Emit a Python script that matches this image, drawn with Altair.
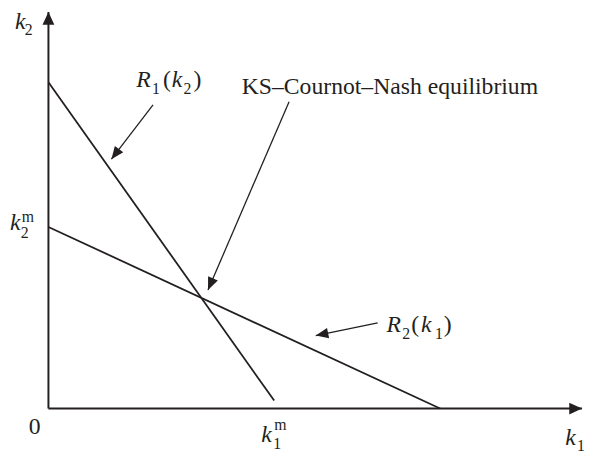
import math
import altair as alt
import pandas as pd

# ---- data (abstract units: both axes run 0..100) ----
AXIS_MAX = 100.0
# reaction function R1(k2): end points (k1, k2)
r1_k1 = [0.0, 42.3]
r1_k2 = [82.3, 2.0]
# reaction function R2(k1)
r2_k1 = [0.0, 73.4]
r2_k2 = [45.8, 0.0]
# annotation arrows: start -> tip
arrow_names = ["R1", "KS", "R2"]
arrow_x0 = [19.6, 45.1, 61.7]
arrow_y0 = [76.6, 77.4, 21.6]
arrow_x1 = [11.8, 29.9, 50.1]
arrow_y1 = [62.9, 29.9, 18.4]

# ---- layout ----
W, H = 541, 402
SX, SY = W / AXIS_MAX, H / AXIS_MAX
INK = "#231f20"
FONT = "Liberation Serif"
MAIN, SUB = 24, 16

xs = alt.Scale(domain=[0, AXIS_MAX], nice=False, zero=False)
ys = alt.Scale(domain=[0, AXIS_MAX], nice=False, zero=False)
X = lambda f: alt.X(f, type="quantitative", scale=xs, axis=None)
Y = lambda f: alt.Y(f, type="quantitative", scale=ys, axis=None)


def heading(x0, y0, x1, y1):
    dxp = (x1 - x0) * SX
    dyp = -(y1 - y0) * SY
    return math.degrees(math.atan2(dxp, -dyp)) % 360


axes_df = pd.DataFrame({"x": [0, 0], "y": [0, 0], "x2": [AXIS_MAX, 0], "y2": [0, AXIS_MAX]})
axis_heads = pd.DataFrame({"x": [AXIS_MAX, 0], "y": [0, AXIS_MAX], "angle": [90, 0]})

react_df = pd.DataFrame({
    "x": [r1_k1[0], r2_k1[0]], "y": [r1_k2[0], r2_k2[0]],
    "x2": [r1_k1[1], r2_k1[1]], "y2": [r1_k2[1], r2_k2[1]],
})

arr_df = pd.DataFrame({"name": arrow_names, "x": arrow_x0, "y": arrow_y0,
                       "x2": arrow_x1, "y2": arrow_y1})
head_df = pd.DataFrame({
    "x": arrow_x1, "y": arrow_y1,
    "angle": [heading(a, b, c, d) for a, b, c, d in zip(arrow_x0, arrow_y0, arrow_x1, arrow_y1)],
})

rows = []


def piece(anchor, dx, dy, txt, italic, size):
    ax, ay = anchor
    rows.append({"x": ax + dx / SX, "y": ay - dy / SY, "text": txt,
                 "style": "italic" if italic else "normal", "size": size})


top = (0, AXIS_MAX)
right = (AXIS_MAX, 0)
origin = (0, 0)
k2m = (0, r2_k2[0])
k1m = (r1_k1[1], 0)
a_r1 = (arrow_x0[0], arrow_y0[0])
a_ks = (arrow_x0[1], arrow_y0[1])
a_r2 = (arrow_x0[2], arrow_y0[2])

piece(top, -34, 17, "k", True, MAIN)
piece(top, -24, 23, "2", False, SUB)
piece(right, -17, 37, "k", True, MAIN)
piece(right, -5, 43, "1", False, SUB)
piece(origin, -20, 26, "0", False, MAIN)
piece(k2m, -39, 3, "k", True, MAIN)
piece(k2m, -28, 11, "2", False, SUB)
piece(k2m, -27, -5, "m", False, SUB)
piece(k1m, -13, 34, "k", True, MAIN)
piece(k1m, -1, 41, "1", False, SUB)
piece(k1m, 0, 22, "m", False, SUB)
# R1(k2)
piece(a_r1, -17, -18, "R", True, MAIN)
piece(a_r1, -1, -11, "1", False, SUB)
piece(a_r1, 10, -18, "(", False, MAIN)
piece(a_r1, 19, -18, "k", True, MAIN)
piece(a_r1, 31, -11, "2", False, SUB)
piece(a_r1, 41, -18, ")", False, MAIN)
# KS label
piece(a_ks, -48, -8, "KS\u2013Cournot\u2013Nash equilibrium", False, MAIN)
# R2(k1)
piece(a_r2, 9, 9, "R", True, MAIN)
piece(a_r2, 25, 16, "2", False, SUB)
piece(a_r2, 34, 9, "(", False, MAIN)
piece(a_r2, 44, 9, "k", True, MAIN)
piece(a_r2, 58, 16, "1", False, SUB)
piece(a_r2, 67, 9, ")", False, MAIN)

txt_df = pd.DataFrame(rows)

AXIS_HEAD = "M0,0 L-0.46,1 L0.46,1 Z"
ANNOT_HEAD = "M0,0 L-0.42,1 L0.42,1 Z"

layers = [
    alt.Chart(axes_df).mark_rule(color=INK, strokeWidth=2).encode(
        x=X("x"), y=Y("y"), x2="x2", y2="y2"),
    alt.Chart(axis_heads).mark_point(shape=AXIS_HEAD, filled=True, opacity=1, color=INK,
                                     size=676, strokeWidth=0).encode(
        x=X("x"), y=Y("y"), angle=alt.Angle("angle:Q", scale=None)),
    alt.Chart(react_df).mark_rule(color=INK, strokeWidth=1.8).encode(
        x=X("x"), y=Y("y"), x2="x2", y2="y2"),
    alt.Chart(arr_df).mark_rule(color=INK, strokeWidth=1.3).encode(
        x=X("x"), y=Y("y"), x2="x2", y2="y2"),
    alt.Chart(head_df).mark_point(shape=ANNOT_HEAD, filled=True, opacity=1, color=INK,
                                  size=650, strokeWidth=0).encode(
        x=X("x"), y=Y("y"), angle=alt.Angle("angle:Q", scale=None)),
]
for st in ["italic", "normal"]:
    for sz in [MAIN, SUB]:
        sub = txt_df[(txt_df["style"] == st) & (txt_df["size"] == sz)]
        if len(sub) == 0:
            continue
        layers.append(
            alt.Chart(sub).mark_text(
                align="left", baseline="alphabetic", font=FONT, fontStyle=st,
                fontSize=sz, color=INK
            ).encode(x=X("x"), y=Y("y"), text="text:N")
        )

chart = alt.layer(*layers).properties(
    width=W, height=H,
    padding={"left": 41, "top": 1, "right": 3, "bottom": 43},
    autosize="none",
).configure_view(stroke=None)

chart.save("out.html", embed_options={"renderer": "svg", "actions": False})
